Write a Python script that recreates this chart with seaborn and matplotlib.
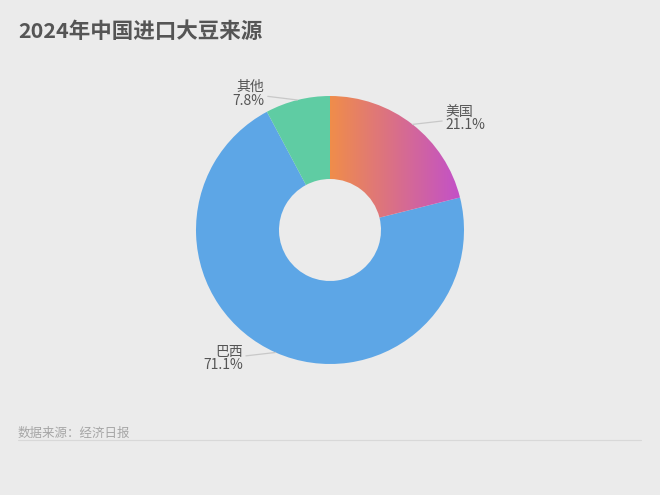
import matplotlib

matplotlib.use("Agg")
import matplotlib.pyplot as plt
import numpy as np
import seaborn as sns
from matplotlib.colors import LinearSegmentedColormap

title = "2024年中国进口大豆来源"
source = "数据来源：经济日报"
countries = ["美国", "巴西", "其他"]
shares = [21.1, 71.1, 7.8]
colors = ["#ee8c4e", "#5da6e6", "#5fcca3"]
gradient_colors = ["#f08d4a", "#c14fcc"]

sns.set_theme(style="white")
plt.rcParams["font.family"] = ["Noto Sans CJK SC", "DejaVu Sans"]

bg = "#ebebeb"
fig = plt.figure(figsize=(6.6, 4.95), dpi=100, facecolor=bg)
ax = fig.add_axes([0, 0, 1, 1])
ax.set_facecolor(bg)

cx, cy = 330, 265
r_out, r_in = 134, 51

wedges, _ = ax.pie(
    shares,
    colors=colors,
    startangle=90,
    counterclock=False,
    center=(cx, cy),
    radius=r_out,
    wedgeprops=dict(width=r_out - r_in, linewidth=0),
    frame=True,
)
ax.set_xlim(0, 660)
ax.set_ylim(0, 495)
ax.set_aspect("equal")
ax.axis("off")

# gradient fill for the first wedge
cmap = LinearSegmentedColormap.from_list("grad", gradient_colors)
grad = np.linspace(0, 1, 256).reshape(1, -1)
w0 = wedges[0]
w0.set_facecolor("none")
img = ax.imshow(
    grad,
    cmap=cmap,
    extent=[cx, cx + r_out, cy, cy + r_out],
    aspect="auto",
    zorder=w0.get_zorder(),
)
img.set_clip_path(w0)

# labels with leader lines
for w, name, val in zip(wedges, countries, shares):
    mid = np.deg2rad((w.theta1 + w.theta2) / 2)
    px, py = cx + r_out * np.cos(mid), cy + r_out * np.sin(mid)
    side = 1 if np.cos(mid) >= 0 else -1
    tx = px + side * 31
    ty = py + 6 * np.sign(np.sin(mid))
    ax.annotate(
        f"{name}\n{val}%",
        xy=(px, py),
        xytext=(tx + side * 2, ty),
        ha="left" if side > 0 else "right",
        va="center",
        fontsize=10,
        color="#555555",
        linespacing=0.95,
        arrowprops=dict(arrowstyle="-", color="#c8c8c8", lw=0.9, shrinkA=0, shrinkB=0),
    )

fig.text(18 / 660, 1 - 31 / 495, title, fontsize=15.5, color="#555555",
         weight="bold", va="center", ha="left")
fig.text(18 / 660, 1 - 433 / 495, source, fontsize=9, color="#a5a5a5",
         va="center", ha="left")
ax.plot([18, 641], [495 - 440, 495 - 440], color="#d8d8d8", lw=0.8)

fig.savefig("out.png", dpi=100, facecolor=bg)
